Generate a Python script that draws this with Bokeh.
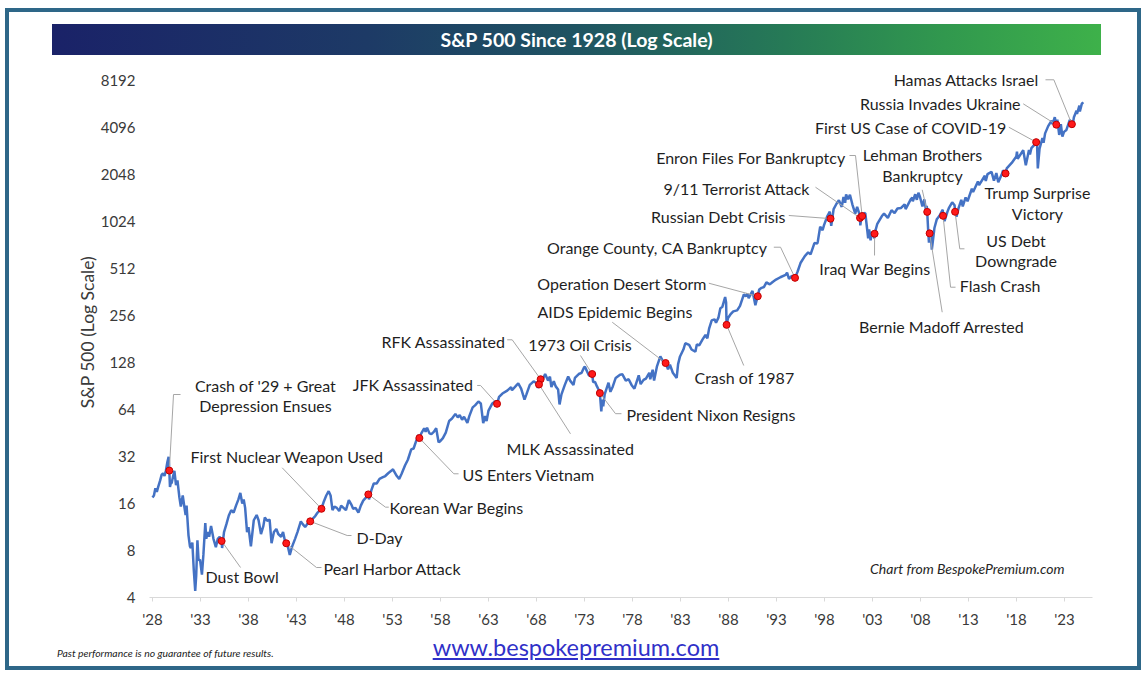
from bokeh.plotting import figure
from bokeh.layouts import column
from bokeh.models import Range1d, FixedTicker, CustomJSTickFormatter, Label, Div
from bokeh.embed import file_html
from bokeh.resources import INLINE

# ---------------- data ----------------
years = [
    1928.00, 1928.15, 1928.30, 1928.45, 1928.60, 1928.80, 1928.95, 1929.10, 1929.25, 1929.40,
    1929.55, 1929.68, 1929.75, 1929.82, 1929.90, 1930.00, 1930.15, 1930.28, 1930.45, 1930.60,
    1930.80, 1930.95, 1931.15, 1931.30, 1931.45, 1931.55, 1931.75, 1931.90, 1932.00, 1932.15,
    1932.30, 1932.45, 1932.55, 1932.68, 1932.80, 1932.95, 1933.15, 1933.30, 1933.50, 1933.60,
    1933.75, 1933.90, 1934.10, 1934.35, 1934.60, 1934.80, 1935.00, 1935.20, 1935.25, 1935.45,
    1935.70, 1935.95, 1936.20, 1936.45, 1936.70, 1936.95, 1937.15, 1937.35, 1937.50, 1937.65,
    1937.85, 1938.00, 1938.25, 1938.55, 1938.85, 1939.05, 1939.30, 1939.55, 1939.70, 1939.95,
    1940.20, 1940.40, 1940.65, 1940.90, 1941.10, 1941.40, 1941.60, 1941.80, 1941.93, 1942.10,
    1942.30, 1942.55, 1942.85, 1943.10, 1943.45, 1943.65, 1943.90, 1944.15, 1944.43, 1944.70,
    1944.95, 1945.20, 1945.45, 1945.60, 1945.85, 1946.10, 1946.35, 1946.55, 1946.75, 1946.95,
    1947.20, 1947.45, 1947.65, 1947.90, 1948.15, 1948.45, 1948.70, 1948.90, 1949.15, 1949.45,
    1949.70, 1949.95, 1950.25, 1950.40, 1950.48, 1950.55, 1950.80, 1951.05, 1951.35, 1951.65,
    1951.95, 1952.25, 1952.55, 1952.90, 1953.05, 1953.45, 1953.70, 1953.95, 1954.30, 1954.60,
    1954.95, 1955.20, 1955.45, 1955.70, 1955.75, 1955.80, 1956.00, 1956.30, 1956.45, 1956.60,
    1956.85, 1957.05, 1957.30, 1957.55, 1957.80, 1957.95, 1958.25, 1958.55, 1958.90, 1959.20,
    1959.55, 1959.80, 1960.00, 1960.25, 1960.45, 1960.80, 1961.00, 1961.35, 1961.60, 1961.95,
    1962.20, 1962.45, 1962.65, 1962.80, 1963.00, 1963.40, 1963.75, 1963.89, 1964.10, 1964.45,
    1964.95, 1965.35, 1965.45, 1965.95, 1966.10, 1966.40, 1966.75, 1966.95, 1967.30, 1967.70,
    1967.95, 1968.15, 1968.26, 1968.43, 1968.60, 1968.90, 1969.20, 1969.40, 1969.55, 1969.80,
    1970.00, 1970.25, 1970.40, 1970.60, 1970.95, 1971.30, 1971.50, 1971.85, 1972.00, 1972.40,
    1972.70, 1972.95, 1973.05, 1973.45, 1973.60, 1973.80, 1973.90, 1974.10, 1974.30, 1974.50,
    1974.60, 1974.75, 1974.85, 1974.95, 1975.10, 1975.50, 1975.70, 1975.95, 1976.25, 1976.70,
    1976.95, 1977.30, 1977.60, 1977.90, 1978.20, 1978.65, 1978.85, 1979.15, 1979.40, 1979.75,
    1979.85, 1980.10, 1980.25, 1980.55, 1980.90, 1981.15, 1981.45, 1981.70, 1981.90, 1982.20,
    1982.60, 1982.75, 1982.95, 1983.30, 1983.50, 1983.90, 1984.15, 1984.55, 1984.70, 1984.95,
    1985.30, 1985.60, 1985.80, 1985.98, 1986.25, 1986.55, 1986.70, 1986.95, 1987.15, 1987.35,
    1987.65, 1987.75, 1987.80, 1987.95, 1988.20, 1988.50, 1988.90, 1989.20, 1989.60, 1989.80,
    1989.98, 1990.10, 1990.50, 1990.80, 1990.98, 1991.05, 1991.20, 1991.45, 1991.70, 1991.95,
    1992.30, 1992.60, 1992.95, 1993.40, 1993.95, 1994.10, 1994.30, 1994.60, 1994.93, 1995.20,
    1995.50, 1995.95, 1996.30, 1996.55, 1996.95, 1997.25, 1997.30, 1997.55, 1997.80, 1997.95,
    1998.30, 1998.55, 1998.63, 1998.70, 1998.95, 1999.25, 1999.50, 1999.80, 1999.98, 2000.15,
    2000.25, 2000.45, 2000.65, 2000.90, 2001.20, 2001.40, 2001.62, 2001.70, 2001.73, 2001.85,
    2001.92, 2002.00, 2002.25, 2002.55, 2002.65, 2002.80, 2002.95, 2003.20, 2003.22, 2003.50,
    2003.98, 2004.20, 2004.60, 2004.98, 2005.30, 2005.60, 2005.98, 2006.35, 2006.45, 2006.98,
    2007.15, 2007.20, 2007.45, 2007.62, 2007.78, 2007.95, 2008.20, 2008.40, 2008.55, 2008.65,
    2008.70, 2008.80, 2008.88, 2008.95, 2009.05, 2009.18, 2009.45, 2009.70, 2009.98, 2010.25,
    2010.32, 2010.35, 2010.50, 2010.80, 2010.98, 2011.30, 2011.55, 2011.60, 2011.75, 2011.98,
    2012.25, 2012.40, 2012.70, 2012.90, 2013.35, 2013.48, 2013.98, 2014.10, 2014.70, 2014.80,
    2014.98, 2015.40, 2015.65, 2015.90, 2016.10, 2016.50, 2016.60, 2016.86, 2016.98, 2017.50,
    2017.98, 2018.05, 2018.12, 2018.70, 2018.97, 2019.30, 2019.40, 2019.55, 2019.98, 2020.05,
    2020.13, 2020.22, 2020.40, 2020.70, 2020.82, 2020.98, 2021.30, 2021.65, 2021.75, 2021.99,
    2022.12, 2022.15, 2022.25, 2022.45, 2022.62, 2022.78, 2022.95, 2023.20, 2023.55, 2023.77,
    2023.82, 2023.98, 2024.25, 2024.30, 2024.55, 2024.60, 2024.80, 2024.95,
]
spx = [
    17.5, 18.0, 20.0, 19.0, 20.5, 22.5, 24.4, 25.0, 24.0, 26.0,
    29.5, 31.9, 26.0, 20.4, 21.5, 21.7, 24.0, 25.9, 21.0, 22.5,
    17.5, 15.3, 18.0, 15.5, 13.5, 15.5, 10.0, 8.5, 8.3, 9.0,
    6.0, 4.4, 5.5, 9.3, 6.9, 7.0, 5.6, 7.5, 12.0, 9.5,
    10.5, 9.8, 11.5, 9.5, 8.4, 9.5, 9.8, 9.2, 8.3, 10.5,
    11.8, 13.4, 14.5, 14.0, 15.5, 17.0, 18.7, 16.0, 17.0, 15.0,
    10.5, 11.3, 8.5, 12.5, 13.5, 12.5, 10.2, 11.5, 13.0, 12.4,
    12.6, 8.9, 10.5, 11.0, 10.2, 9.8, 10.5, 9.2, 8.9, 8.5,
    7.5, 8.5, 9.5, 10.5, 12.3, 11.8, 11.3, 11.9, 12.3, 12.8,
    13.3, 14.0, 14.5, 14.8, 16.5, 18.0, 19.2, 18.0, 14.5, 15.3,
    15.0, 14.3, 15.5, 15.0, 14.5, 16.8, 15.8, 14.8, 15.0, 14.0,
    15.5, 16.7, 17.5, 19.0, 18.3, 17.0, 19.5, 21.5, 21.5, 23.0,
    23.5, 24.0, 25.0, 26.0, 26.5, 24.0, 23.0, 24.8, 28.0, 30.5,
    35.5, 36.0, 40.0, 44.0, 41.0, 42.0, 45.0, 48.5, 46.0, 49.0,
    45.0, 44.5, 46.0, 48.5, 39.5, 40.0, 42.0, 45.5, 54.0, 56.0,
    60.0, 57.0, 59.0, 55.0, 57.5, 52.5, 58.0, 66.0, 68.0, 72.0,
    70.0, 52.3, 58.0, 54.0, 63.0, 70.0, 72.5, 69.6, 77.0, 81.0,
    84.5, 89.0, 85.0, 92.0, 94.0, 87.0, 74.0, 80.0, 92.0, 97.0,
    95.0, 88.0, 92.6, 100.0, 98.0, 108.0, 98.0, 104.0, 89.0, 97.0,
    90.0, 86.0, 69.0, 80.0, 92.0, 104.0, 98.0, 92.0, 102.0, 108.0,
    110.0, 119.0, 120.0, 106.0, 105.0, 108.0, 96.0, 96.0, 90.0, 85.0,
    81.5, 62.3, 74.0, 67.0, 80.0, 95.0, 83.0, 90.0, 102.0, 107.0,
    107.5, 98.0, 100.0, 92.0, 87.0, 106.0, 93.0, 99.0, 101.0, 110.0,
    100.0, 115.0, 98.0, 121.0, 140.0, 131.0, 127.0, 116.0, 124.0, 110.0,
    102.0, 125.0, 140.0, 155.0, 170.0, 166.0, 155.0, 150.0, 167.0, 165.0,
    180.0, 192.0, 183.0, 211.0, 238.0, 242.0, 230.0, 248.0, 285.0, 290.0,
    336.0, 310.0, 223.0, 247.0, 260.0, 272.0, 276.0, 295.0, 350.0, 340.0,
    353.0, 330.0, 368.0, 298.0, 330.0, 340.0, 375.0, 385.0, 390.0, 417.0,
    405.0, 420.0, 435.0, 450.0, 466.0, 482.0, 440.0, 460.0, 446.0, 490.0,
    555.0, 615.0, 650.0, 630.0, 745.0, 740.0, 760.0, 950.0, 900.0, 970.0,
    1110.0, 1185.0, 1068.0, 960.0, 1229.0, 1330.0, 1400.0, 1270.0, 1469.0, 1350.0,
    1527.0, 1420.0, 1520.0, 1320.0, 1150.0, 1270.0, 1150.0, 1080.0, 966.0, 1100.0,
    1110.0, 1150.0, 1160.0, 800.0, 910.0, 776.0, 880.0, 800.0, 855.0, 990.0,
    1110.0, 1150.0, 1080.0, 1210.0, 1160.0, 1240.0, 1250.0, 1320.0, 1230.0, 1420.0,
    1460.0, 1380.0, 1530.0, 1410.0, 1565.0, 1470.0, 1280.0, 1420.0, 1230.0, 1290.0,
    1180.0, 900.0, 750.0, 860.0, 900.0, 677.0, 930.0, 1060.0, 1115.0, 1200.0,
    1215.0, 1114.0, 1030.0, 1180.0, 1258.0, 1360.0, 1300.0, 1182.0, 1100.0, 1258.0,
    1410.0, 1280.0, 1460.0, 1380.0, 1660.0, 1580.0, 1848.0, 1750.0, 2010.0, 1860.0,
    2060.0, 2130.0, 1870.0, 2090.0, 1830.0, 2080.0, 2180.0, 2080.0, 2240.0, 2430.0,
    2673.0, 2870.0, 2580.0, 2930.0, 2350.0, 2940.0, 2750.0, 3020.0, 3230.0, 3300.0,
    3386.0, 2237.0, 3000.0, 3500.0, 3270.0, 3756.0, 4180.0, 4530.0, 4300.0, 4766.0,
    4300.0, 4270.0, 4600.0, 3670.0, 4300.0, 3580.0, 3840.0, 3950.0, 4590.0, 4300.0,
    4120.0, 4770.0, 5250.0, 5000.0, 5650.0, 5200.0, 5800.0, 5950.0,
]

event_names = [
    "Crash of '29", "Dust Bowl", "Pearl Harbor Attack", "D-Day", "First Nuclear Weapon Used",
    "Korean War Begins", "US Enters Vietnam", "JFK Assassinated", "RFK Assassinated",
    "MLK Assassinated", "1973 Oil Crisis", "President Nixon Resigns", "AIDS Epidemic Begins",
    "Crash of 1987", "Operation Desert Storm", "Orange County, CA Bankruptcy",
    "Russian Debt Crisis", "9/11 Terrorist Attack", "Enron Files For Bankruptcy",
    "Iraq War Begins", "Lehman Brothers Bankruptcy", "Bernie Madoff Arrested", "Flash Crash",
    "US Debt Downgrade", "Trump Surprise Victory", "First US Case of COVID-19",
    "Russia Invades Ukraine", "Hamas Attacks Israel",
]
event_dates = [
    1929.75, 1935.20, 1941.93, 1944.43, 1945.60, 1950.48, 1955.80, 1963.89, 1968.43, 1968.26,
    1973.80, 1974.60, 1981.45, 1987.80, 1991.05, 1994.93, 1998.63, 2001.70, 2001.92, 2003.22,
    2008.70, 2008.95, 2010.35, 2011.60, 2016.86, 2020.05, 2022.15, 2023.77,
]
event_values = [
    26.0, 9.2, 8.9, 12.3, 14.8, 18.3, 42.0, 69.6, 100.0, 92.6,
    108.0, 81.5, 127.0, 223.0, 340.0, 446.0, 1068.0, 1080.0, 1110.0, 855.0,
    1180.0, 860.0, 1114.0, 1182.0, 2080.0, 3300.0, 4270.0, 4300.0,
]

y_ticks = [4, 8, 16, 32, 64, 128, 256, 512, 1024, 2048, 4096, 8192]
x_ticks = [1928, 1933, 1938, 1943, 1948, 1953, 1958, 1963, 1968, 1973,
           1978, 1983, 1988, 1993, 1998, 2003, 2008, 2013, 2018, 2023]
x_tick_labels = ["'28", "'33", "'38", "'43", "'48", "'53", "'58", "'63", "'68", "'73",
                 "'78", "'83", "'88", "'93", "'98", "'03", "'08", "'13", "'18", "'23"]

# ---------------- annotation layout (positions: year, log2 of value) ----------------
# (event, text lines, align, x, [log2 y per line], leader elbow points)
label_layout = [
    ("Crash of '29", ["Crash of '29 + Great", "Depression Ensues"], "center", 1939.77, [6.511, 6.085],
     [(1930.19, 6.319), (1930.92, 6.319)]),
    ("Dust Bowl", ["Dust Bowl"], "left", 1933.52, [2.447], [(1937.17, 2.638)]),
    ("Pearl Harbor Attack", ["Pearl Harbor Attack"], "left", 1945.81, [2.617],
     [(1945.08, 2.638), (1945.60, 2.638)]),
    ("D-Day", ["D-Day"], "left", 1949.25, [3.277], [(1948.28, 3.319), (1948.73, 3.319)]),
    ("First Nuclear Weapon Used", ["First Nuclear Weapon Used"], "left", 1931.96, [5.0],
     [(1941.51, 4.760)]),
    ("Korean War Begins", ["Korean War Begins"], "left", 1952.69, [3.915],
     [(1952.27, 3.922), (1952.61, 3.922)]),
    ("US Enters Vietnam", ["US Enters Vietnam"], "left", 1960.29, [4.617],
     [(1959.39, 4.632), (1959.88, 4.632)]),
    ("JFK Assassinated", ["JFK Assassinated"], "right", 1961.44, [6.532],
     [(1962.17, 6.511), (1961.82, 6.511)]),
    ("RFK Assassinated", ["RFK Assassinated"], "right", 1964.77, [7.447],
     [(1965.47, 7.483), (1964.95, 7.483)]),
    ("MLK Assassinated", ["MLK Assassinated"], "center", 1971.54, [5.170], [(1971.54, 5.483)]),
    ("1973 Oil Crisis", ["1973 Oil Crisis"], "center", 1972.53, [7.383], [(1972.58, 7.149)]),
    ("President Nixon Resigns", ["President Nixon Resigns"], "left", 1977.38, [5.894],
     [(1976.23, 5.911), (1976.85, 5.911)]),
    ("AIDS Epidemic Begins", ["AIDS Epidemic Begins"], "left", 1968.10, [8.085], [(1975.89, 7.857)]),
    ("Crash of 1987", ["Crash of 1987"], "left", 1984.46, [6.681], [(1989.59, 6.936)]),
    ("Operation Desert Storm", ["Operation Desert Storm"], "right", 1985.71, [8.681],
     [(1985.95, 8.687)]),
    ("Orange County, CA Bankruptcy", ["Orange County, CA Bankruptcy"], "right", 1992.06, [9.447],
     [(1993.42, 9.453), (1992.72, 9.453)]),
    ("Russian Debt Crisis", ["Russian Debt Crisis"], "right", 1993.94, [10.106], [(1994.28, 10.128)]),
    ("9/11 Terrorist Attack", ["9/11 Terrorist Attack"], "right", 1996.54, [10.696],
     [(1997.06, 10.730)]),
    ("Enron Files For Bankruptcy", ["Enron Files For Bankruptcy"], "right", 2000.19, [11.355],
     [(2001.23, 11.404), (2000.60, 11.404)]),
    ("Iraq War Begins", ["Iraq War Begins"], "center", 2003.26, [8.994], [(2003.21, 9.277)]),
    ("Lehman Brothers Bankruptcy", ["Lehman Brothers", "Bankruptcy"], "center", 2008.21,
     [11.419, 10.979], [(2008.18, 10.674)]),
    ("Bernie Madoff Arrested", ["Bernie Madoff Arrested"], "center", 2010.22, [7.772],
     [(2010.26, 8.070)]),
    ("Flash Crash", ["Flash Crash"], "left", 2012.09, [8.638], [(2011.13, 8.602), (2011.65, 8.602)]),
    ("US Debt Downgrade", ["US Debt", "Downgrade"], "center", 2017.95, [9.596, 9.170],
     [(2012.09, 9.419), (2012.58, 9.419)]),
    ("Trump Surprise Victory", ["Trump Surprise", "Victory"], "center", 2020.18, [10.623, 10.177], []),
    ("First US Case of COVID-19", ["First US Case of COVID-19"], "right", 2016.96, [12.006],
     [(2017.20, 12.006)]),
    ("Russia Invades Ukraine", ["Russia Invades Ukraine"], "right", 2018.42, [12.504],
     [(2018.70, 12.504)]),
    ("Hamas Attacks Israel", ["Hamas Attacks Israel"], "right", 2020.32, [13.015],
     [(2021.89, 13.015), (2021.02, 13.015)]),
]

# ---------------- geometry / style ----------------
FONT = "Lato"
BORDER = "#2E6788"
PAGE_W = 1144
TOP_H, FIG_H, FOOT_H = 60, 572, 46
PX_PER_YEAR = 9.6
PX_PER_DOUBLING = 47.0
FRAME_L, FRAME_R = 149, 1092          # frame in page pixels
FRAME_T, FRAME_B = 66, 597
X0 = 1928 - 3 / PX_PER_YEAR
X1 = X0 + (FRAME_R - FRAME_L) / PX_PER_YEAR
Y1 = 8192 * 2 ** ((80 - FRAME_T) / PX_PER_DOUBLING)

p = figure(width=PAGE_W, height=FIG_H, x_range=Range1d(X0, X1), y_range=Range1d(4, Y1),
           y_axis_type="log", output_backend="svg", toolbar_location=None,
           min_border_left=FRAME_L, min_border_right=PAGE_W - FRAME_R,
           min_border_top=FRAME_T - TOP_H, min_border_bottom=TOP_H + FIG_H - FRAME_B,
           styles={"background": (f"linear-gradient({BORDER},{BORDER}) 5px 0 / 4px 100% no-repeat, "
                                  f"linear-gradient({BORDER},{BORDER}) 1137px 0 / 4px 100% no-repeat, "
                                  "#ffffff")})
p.xgrid.visible = False
p.ygrid.visible = False
p.outline_line_color = None
p.background_fill_alpha = 0
p.border_fill_alpha = 0

# y axis
p.yaxis.ticker = FixedTicker(ticks=y_ticks)
p.yaxis.formatter = CustomJSTickFormatter(code="return Math.round(tick).toString()")
p.yaxis.axis_line_color = None
p.yaxis.major_tick_line_color = None
p.yaxis.minor_tick_line_color = None
p.yaxis.major_tick_out = 0
p.yaxis.major_tick_in = 0
p.yaxis.major_label_standoff = 14
p.yaxis.major_label_text_font = FONT
p.yaxis.major_label_text_font_size = "15px"
p.yaxis.major_label_text_color = "#3a3a3a"
p.yaxis.axis_label = "S&P 500 (Log Scale)"
p.yaxis.axis_label_text_font = FONT
p.yaxis.axis_label_text_font_size = "17.5px"
p.yaxis.axis_label_text_font_style = "normal"
p.yaxis.axis_label_text_color = "#3a3a3a"
p.yaxis.axis_label_standoff = 0

# x axis
p.xaxis.ticker = FixedTicker(ticks=x_ticks)
p.xaxis.major_label_overrides = dict(zip(x_ticks, x_tick_labels))
p.xaxis.axis_line_color = "#D9D9D9"
p.xaxis.major_tick_line_color = "#D9D9D9"
p.xaxis.major_tick_in = 0
p.xaxis.major_tick_out = 4
p.xaxis.minor_tick_line_color = None
p.xaxis.major_label_standoff = 8
p.xaxis.major_label_text_font = FONT
p.xaxis.major_label_text_font_size = "15px"
p.xaxis.major_label_text_color = "#3a3a3a"

# source note inside the plot
p.add_layout(Label(x=2023.0, y=2 ** (13 - 488 / PX_PER_DOUBLING), text="Chart from BespokePremium.com",
                   text_align="right", text_baseline="middle", text_font=FONT, text_font_size="14px",
                   text_font_style="italic", text_color="#262626"))

# ---------------- series, leaders, markers ----------------
p.line(years, spx, line_color="#4472C4", line_width=2.5)

lead_xs, lead_ys = [], []
for name, lines, align, lx, lys, leader in label_layout:
    k = event_names.index(name)
    if leader:
        lead_xs.append([event_dates[k]] + [a for a, _ in leader])
        lead_ys.append([event_values[k]] + [2 ** b for _, b in leader])
    for txt, ly in zip(lines, lys):
        p.add_layout(Label(x=lx, y=2 ** ly, text=txt, text_align=align, text_baseline="middle",
                           text_font=FONT, text_font_size="16px", text_color="#1f1f1f"))

p.multi_line(lead_xs, lead_ys, line_color="#A6A6A6", line_width=1)
p.scatter(event_dates, event_values, size=7, fill_color="#FF1A1A", line_color="#C00000",
          line_width=1)

# ---------------- title bar and footer ----------------
GRAD = ("linear-gradient(to right, #1a2268 0%, #1d3a66 30%, #1f5462 50%, "
        "#267a56 70%, #31984e 85%, #3eb14a 100%)")
title_html = (
    f'<div style="position:relative;width:{PAGE_W}px;height:{TOP_H}px;background:#fff;">'
    f'<div style="position:absolute;left:5px;top:8px;width:1136px;height:4px;background:{BORDER};"></div>'
    f'<div style="position:absolute;left:5px;top:8px;width:4px;height:{TOP_H - 8}px;background:{BORDER};"></div>'
    f'<div style="position:absolute;left:1137px;top:8px;width:4px;height:{TOP_H - 8}px;background:{BORDER};"></div>'
    f'<div style="position:absolute;left:52px;top:24px;width:1049px;height:31px;background:{GRAD};'
    f'color:#ffffff;font-family:{FONT};font-weight:bold;font-size:19.5px;line-height:31px;'
    'text-align:center;white-space:nowrap;">S&amp;P 500 Since 1928 (Log Scale)</div>'
    '</div>'
)
foot_html = (
    f'<div style="position:relative;width:{PAGE_W}px;height:{FOOT_H}px;background:#fff;">'
    f'<div style="position:absolute;left:5px;top:0px;width:4px;height:38px;background:{BORDER};"></div>'
    f'<div style="position:absolute;left:1137px;top:0px;width:4px;height:38px;background:{BORDER};"></div>'
    f'<div style="position:absolute;left:5px;top:34px;width:1136px;height:4px;background:{BORDER};"></div>'
    f'<div style="position:absolute;left:0px;top:1px;width:1152px;height:28px;line-height:28px;'
    f'text-align:center;font-family:{FONT};font-size:23.5px;color:#3030C8;text-decoration:underline;'
    'white-space:nowrap;">www.bespokepremium.com</div>'
    f'<div style="position:absolute;left:57px;top:14px;height:14px;line-height:14px;'
    f'font-family:{FONT};font-size:10.4px;font-style:italic;color:#222222;white-space:nowrap;">'
    'Past performance is no guarantee of future results.</div>'
    '</div>'
)
title_div = Div(text=title_html, width=PAGE_W, height=TOP_H, margin=0)
foot_div = Div(text=foot_html, width=PAGE_W, height=FOOT_H, margin=0)

layout = column(title_div, p, foot_div, spacing=0)

open("out.html", "w").write(file_html(layout, INLINE))
